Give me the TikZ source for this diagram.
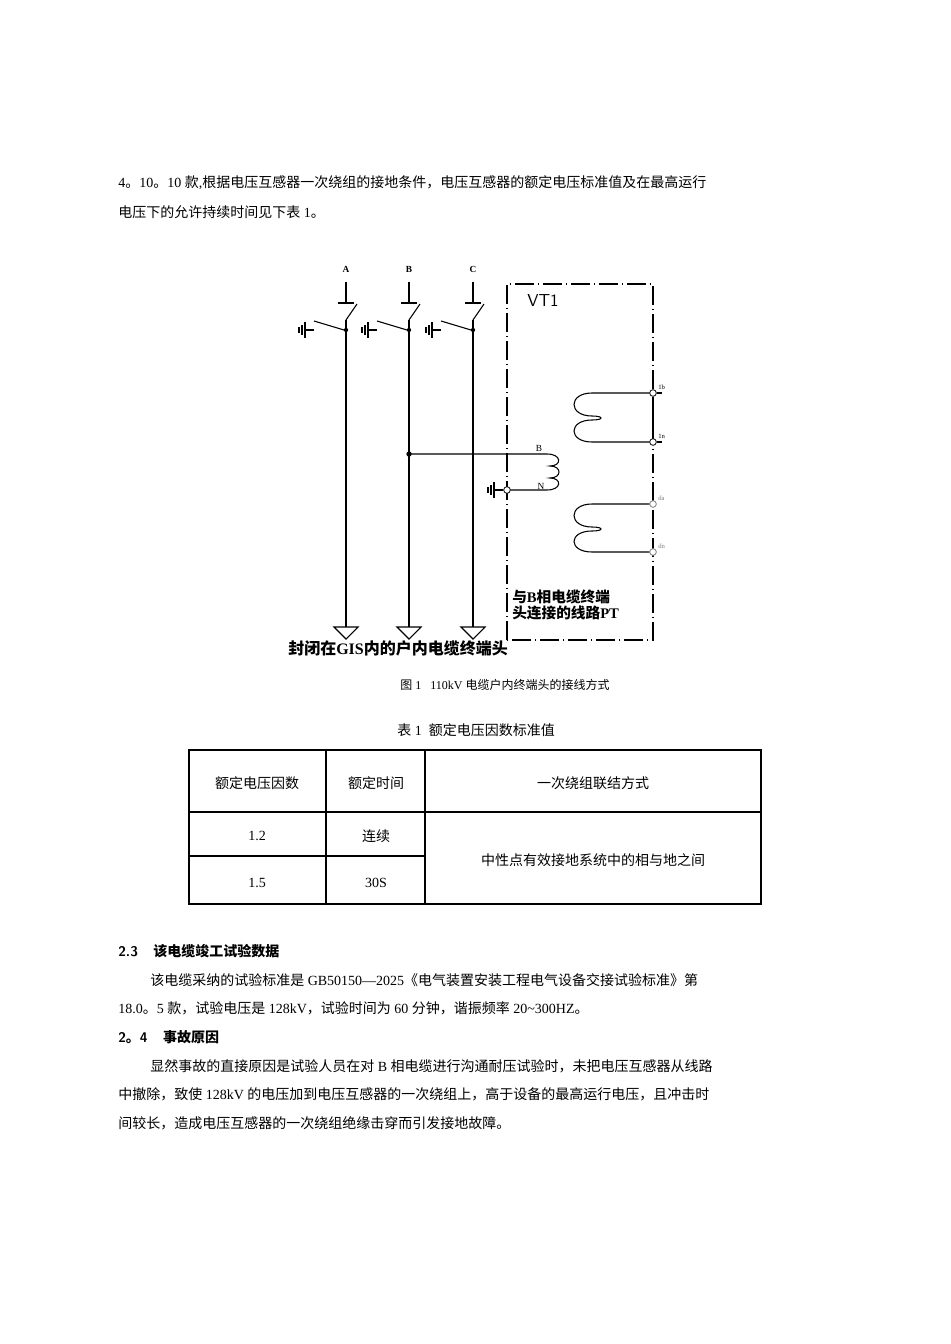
\documentclass[tikz,border=0pt]{standalone}
\usepackage{fontspec}
\setmainfont{Liberation Serif}
\newfontfamily\cjk{Noto Sans CJK SC}
\XeTeXinterchartokenstate=1
\newXeTeXintercharclass\CJKcls
\count255="3000 \loop \XeTeXcharclass\count255=\CJKcls \ifnum\count255<"303F \advance\count255 1 \repeat
\count255="4E00 \loop \XeTeXcharclass\count255=\CJKcls \ifnum\count255<"9FFF \advance\count255 1 \repeat
\count255="FF00 \loop \XeTeXcharclass\count255=\CJKcls \ifnum\count255<"FFEF \advance\count255 1 \repeat
\XeTeXinterchartoks 0 \CJKcls = {\begingroup\cjk}
\XeTeXinterchartoks 4095 \CJKcls = {\begingroup\cjk}
\XeTeXinterchartoks \CJKcls 0 = {\endgroup}
\XeTeXinterchartoks \CJKcls 4095 = {\endgroup}
\begin{document}
\begin{tikzpicture}[x=0.75pt,y=-0.75pt,
  body/.style={anchor=west,inner sep=0,font=\fontsize{10.5pt}{12pt}\selectfont},
  cell/.style={inner sep=0,font=\fontsize{10.5pt}{12pt}\selectfont},
  captxt/.style={inner sep=0,font=\fontsize{9pt}{11pt}\selectfont},
  phase/.style={line width=1.3pt},
  thin/.style={line width=0.8pt},
  vtbox/.style={line width=0.8pt,dash pattern=on 14pt off 3pt on 1pt off 3pt},
  term/.style={circle,draw,fill=white,inner sep=0,minimum size=5pt,line width=0.6pt},
  lbl/.style={inner sep=0,font=\fontsize{7pt}{8pt}\bfseries\selectfont},
  tiny/.style={inner sep=0,font=\fontsize{5pt}{6pt}\selectfont,anchor=west}]
\useasboundingbox (0,0) rectangle (950,1344);
\fill[white] (0,0) rectangle (950,1344);
% top paragraph
\node[body] (p1) at (118,183) {4。10。10 款,根据电压互感器一次绕组的接地条件，电压互感器的额定电压标准值及在最高运行};
\node[body] (p2) at (118,212) {电压下的允许持续时间见下表 1。};
% phases
\foreach \n/\x in {A/346,B/409,C/473}{
  \node[lbl] (l\n) at (\x,269) {\n};
  \coordinate (t\n) at (\x,282);
  \coordinate (s\n) at (\x,303);
  \coordinate (j\n) at (\x,330);
  \coordinate (e\n) at (\x,627);
  \draw[thin] (t\n) -- (s\n);
  \draw[thin] (\x-8,303) -- (\x+8,303);
  \draw[thin] (\x+11,304) -- (\x,320);
  \draw[phase] (\x,320) -- (e\n);
  \fill (j\n) circle (1.6pt);
  \draw[thin] (\x-2,330) -- (\x-32,321);
  \draw[thin] (\x-32,330) -- (\x-41,330);
  \draw[thin] (\x-41,322) -- (\x-41,338);
  \draw[thin] (\x-44,325) -- (\x-44,335);
  \draw[thin] (\x-47,327) -- (\x-47,333);
  \draw[thin] (\x-12,627) -- (\x+12,627) -- (\x,639) -- cycle;
}
\node[inner sep=0,anchor=west,font=\fontsize{12pt}{14pt}\bfseries\selectfont] (gis) at (288,648) {封闭在GIS内的户内电缆终端头};
% VT1 box
\draw[vtbox] (507,640) -- (507,284) -- (653,284) -- (653,640) -- cycle;
\node[inner sep=0,font=\sffamily\fontsize{13pt}{15pt}\selectfont] (vt) at (543,300) {VT1};
% B tap
\fill (409,454) circle (2pt);
\coordinate (bt) at (409,454);
\node[term] (nN) at (507,490) {};
\draw[thin] (bt) -- (547,454) .. controls (562,454) and (562,466) .. (550,466)
  .. controls (562,466) and (562,478) .. (550,478)
  .. controls (562,478) and (562,490) .. (547,490) -- (nN);
\node[inner sep=0,font=\fontsize{7pt}{8pt}\selectfont] (bl) at (539,448) {B};
\node[inner sep=0,font=\fontsize{7pt}{8pt}\selectfont] (nl) at (541,486) {N};
\draw[thin] (nN) -- (494,490);
\draw[thin] (494,482) -- (494,498);
\draw[thin] (491,485) -- (491,495);
\draw[thin] (488,487) -- (488,493);
% secondary windings
\node[term] (t1b) at (653,393) {};
\node[term] (t1n) at (653,442) {};
\node[term,draw=gray] (tda) at (653,504) {};
\node[term,draw=gray] (tdn) at (653,552) {};
\draw[thin] (t1b) -- (592,393) .. controls (568,393) and (568,416) .. (592,416)
  .. controls (604,416) and (604,420) .. (592,420)
  .. controls (568,420) and (568,442) .. (592,442) -- (t1n);
\draw[thin] (tda) -- (592,504) .. controls (568,504) and (568,527) .. (592,527)
  .. controls (604,527) and (604,531) .. (592,531)
  .. controls (568,531) and (568,552) .. (592,552) -- (tdn);
\draw[thin] (t1b) -- (t1n);
\draw[thin] (t1b) -- (662,393);
\draw[thin] (t1n) -- (662,442);
\node[tiny] at (658,387) {1b};
\node[tiny] at (658,436) {1n};
\node[tiny,gray] at (658,498) {da};
\node[tiny,gray] at (658,546) {dn};
\node[inner sep=0,anchor=west,font=\fontsize{11pt}{12pt}\bfseries\selectfont,align=left] (pt) at (512,605) {与B相电缆终端\\头连接的线路PT};
% captions
\node[captxt] (c1) at (505,685) {图 1 \ \ 110kV 电缆户内终端头的接线方式};
\node[cell] (c2) at (476,730) {表 1 \ 额定电压因数标准值};
% table
\draw[line width=1.1pt] (189,750) rectangle (761,904);
\draw[line width=0.8pt] (326,750) -- (326,904) (425,750) -- (425,904);
\draw[line width=0.8pt] (189,812) -- (761,812) (189,856) -- (425,856);
\node[cell] at (257,783) {额定电压因数};
\node[cell] at (376,783) {额定时间};
\node[cell] at (593,783) {一次绕组联结方式};
\node[cell] at (257,836) {1.2};
\node[cell] at (376,836) {连续};
\node[cell] at (257,883) {1.5};
\node[cell] at (376,883) {30S};
\node[cell] at (593,860) {中性点有效接地系统中的相与地之间};
% body text
\node[body,font=\sffamily\fontsize{10.5pt}{12pt}\bfseries\selectfont] at (118,951) {2.3 \ \ 该电缆竣工试验数据};
\node[body] at (150,980) {该电缆采纳的试验标准是 GB50150—2025《电气装置安装工程电气设备交接试验标准》第};
\node[body] at (118,1008) {18.0。5 款，试验电压是 128kV，试验时间为 60 分钟，谐振频率 20\textasciitilde300HZ。};
\node[body,font=\sffamily\fontsize{10.5pt}{12pt}\bfseries\selectfont] at (118,1037) {2。4 \ \ 事故原因};
\node[body] at (150,1066) {显然事故的直接原因是试验人员在对 B 相电缆进行沟通耐压试验时，未把电压互感器从线路};
\node[body] at (118,1094) {中撤除，致使 128kV 的电压加到电压互感器的一次绕组上，高于设备的最高运行电压，且冲击时};
\node[body] at (118,1123) {间较长，造成电压互感器的一次绕组绝缘击穿而引发接地故障。};
\end{tikzpicture}
\end{document}
